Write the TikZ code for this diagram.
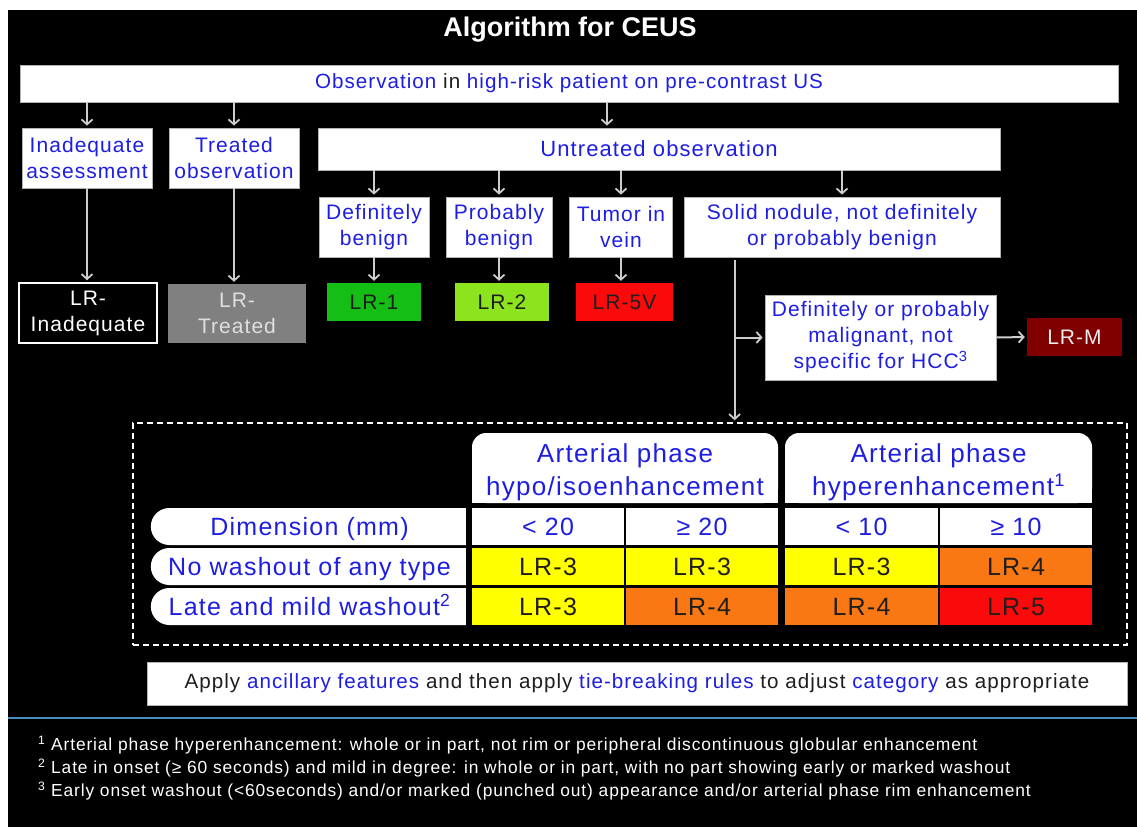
\documentclass[tikz,border=0pt]{standalone}
\usepackage{fontspec}
\setmainfont{Liberation Sans}[LetterSpace=5]
\newfontfamily\titlefont{Liberation Sans}
\usetikzlibrary{arrows.meta,calc,shapes.misc}
\definecolor{tb}{RGB}{30,30,225}
\definecolor{tk}{RGB}{30,30,30}
\definecolor{arrgray}{RGB}{205,205,205}
\definecolor{lrone}{RGB}{20,190,20}
\definecolor{lrtwo}{RGB}{140,228,30}
\definecolor{lrred}{RGB}{250,10,10}
\definecolor{lrm}{RGB}{128,0,0}
\definecolor{lrgray}{RGB}{128,128,128}
\definecolor{cyel}{RGB}{255,255,0}
\definecolor{corg}{RGB}{250,120,20}
\definecolor{rule}{RGB}{70,140,190}
\begin{document}
\begin{tikzpicture}[x=1pt,y=-1pt,
  box/.style={draw=gray!60, line width=0.8pt, fill=white, text=tb, align=center, inner sep=0pt,
    font=\fontsize{21}{26}\selectfont},
  lrbox/.style={inner sep=0pt, align=center, font=\fontsize{21}{26}\selectfont, text=tk},
  arr/.style={draw=arrgray, line width=2pt, -{Straight Barb[length=5pt,width=11pt,line width=1.8pt]}, shorten >=2pt},
  cell/.style={inner sep=0pt, minimum height=37pt, text height=18pt, text depth=0pt, text=tk, font=\fontsize{25}{30}\selectfont},
  hdrtext/.style={inner sep=0pt, text=tb, align=center, font=\fontsize{26}{33}\selectfont},
  rowlab/.style={fill=white, rounded rectangle, rounded rectangle right arc=none, inner sep=0pt,
    minimum width=315pt, minimum height=37pt, text height=18pt, text depth=0pt, text=tb, font=\fontsize{25}{30}\selectfont}
]
\useasboundingbox (0,0) rectangle (1137,827);
\fill[white] (0,0) rectangle (1137,827);
\fill[black] (8,10) rectangle (1137,827);

% title
\node[text=white, font=\titlefont\bfseries\fontsize{27}{30}\selectfont] (title) at (570,30) {Algorithm for CEUS};

% top level
\node[box, minimum width=1098pt, minimum height=37pt, font=\fontsize{20.6}{26}\selectfont] (top) at (569,83.5)
  {Observation \textcolor{tk}{in} high-risk patient on pre-contrast US};
\node[box, minimum width=130pt, minimum height=60pt] (inad) at (87,158) {Inadequate\\assessment};
\node[box, minimum width=130pt, minimum height=60pt] (treat) at (234,158) {Treated\\observation};
\node[box, minimum width=682pt, minimum height=42pt, font=\fontsize{22}{26}\selectfont] (untr) at (659,149) {Untreated observation};

\node[box, minimum width=110pt, minimum height=60pt] (defb) at (374,227) {Definitely\\benign};
\node[box, minimum width=106pt, minimum height=60pt] (probb) at (499,227) {Probably\\benign};
\node[box, minimum width=103pt, minimum height=60pt] (tiv) at (621,227) {Tumor in\\vein};
\node[box, minimum width=316pt, minimum height=60pt] (solid) at (842,227) {Solid nodule, not definitely\\or probably benign};

% LR categories (top)
\node[lrbox, draw=white, line width=1.5pt, fill=black, text=white, minimum width=138pt, minimum height=60pt] (lrinad) at (88,313) {LR-\\Inadequate};
\node[lrbox, fill=lrgray, text=gray!25, minimum width=138pt, minimum height=59pt] (lrtreat) at (237,313.5) {LR-\\Treated};
\node[lrbox, fill=lrone, minimum width=94pt, minimum height=38pt] (lr1) at (374,302) {LR-1};
\node[lrbox, fill=lrtwo, minimum width=94pt, minimum height=38pt] (lr2) at (502,302) {LR-2};
\node[lrbox, fill=lrred, minimum width=97pt, minimum height=38pt] (lr5v) at (624.5,302) {LR-5V};

\node[box, minimum width=231pt, minimum height=85pt] (mal) at (880.5,337.5) {Definitely or probably\\malignant, not\\specific for HCC\textsuperscript{3}};
\node[lrbox, fill=lrm, text=gray!15, minimum width=95pt, minimum height=38pt] (lrmnode) at (1074.5,337) {LR-M};

% dashed frame
\node[draw=white, dashed, dash pattern=on 6pt off 4pt, line width=1.5pt, minimum width=994pt, minimum height=222pt, inner sep=0pt] (frame) at (630,534) {};

% arrows
\coordinate (u1) at ($(untr.north)+(-52,0)$);
\draw[arr] (top.south -| inad.north) -- (inad.north);
\draw[arr] (top.south -| treat.north) -- (treat.north);
\draw[arr] (top.south -| u1) -- (u1);
\draw[arr] (untr.south -| defb.north) -- (defb.north);
\draw[arr] (untr.south -| probb.north) -- (probb.north);
\draw[arr] (untr.south -| tiv.north) -- (tiv.north);
\draw[arr] (untr.south -| solid.north) -- (solid.north);
\draw[arr] (inad.south) -- (inad.south |- lrinad.north);
\draw[arr] (treat.south) -- (treat.south |- lrtreat.north);
\draw[arr] (defb.south) -- (defb.south |- lr1.north);
\draw[arr] (probb.south) -- (probb.south |- lr2.north);
\draw[arr] (tiv.south) -- (tiv.south |- lr5v.north);
\coordinate (sx) at ($(solid.south west)+(51,3)$);
\draw[arr] (sx) -- (sx |- frame.north);
\draw[arr] (sx |- mal.west) -- (mal.west);
\draw[arr] (mal.east) -- (lrmnode.west);

% table header (white tabs with rounded top corners)
\fill[white, rounded corners=14pt] (472,503) -- (472,433) -- (778,433) -- (778,503) -- cycle;
\fill[white] (472,480) rectangle (778,503);
\fill[white, rounded corners=14pt] (785,503) -- (785,433) -- (1092,433) -- (1092,503) -- cycle;
\fill[white] (785,480) rectangle (1092,503);
\node[hdrtext] (h1) at (625,472) {Arterial phase\\hypo/isoenhancement};
\node[hdrtext] (h2) at (938.5,472) {Arterial phase\\hyperenhancement\textsuperscript{1}};

% row labels
\node[rowlab] (rl1) at (309.5,526.5) {Dimension (mm)};
\node[rowlab] (rl2) at (309.5,566.5) {No washout of any type};
\node[rowlab] (rl3) at (309.5,606.5) {Late and mild washout\textsuperscript{2}};

% cells
\node[cell, fill=white, text=tb, minimum width=152pt] (d1) at (548,526.5) {< 20};
\node[cell, fill=white, text=tb, minimum width=152pt] (d2) at (702,526.5) {≥ 20};
\node[cell, fill=white, text=tb, minimum width=153pt] (d3) at (861.5,526.5) {< 10};
\node[cell, fill=white, text=tb, minimum width=152pt] (d4) at (1016,526.5) {≥ 10};

\node[cell, fill=cyel, minimum width=152pt] (a1) at (548,566.5) {LR-3};
\node[cell, fill=cyel, minimum width=152pt] (a2) at (702,566.5) {LR-3};
\node[cell, fill=cyel, minimum width=153pt] (a3) at (861.5,566.5) {LR-3};
\node[cell, fill=corg, minimum width=152pt] (a4) at (1016,566.5) {LR-4};

\node[cell, fill=cyel, minimum width=152pt] (b1) at (548,606.5) {LR-3};
\node[cell, fill=corg, minimum width=152pt] (b2) at (702,606.5) {LR-4};
\node[cell, fill=corg, minimum width=153pt] (b3) at (861.5,606.5) {LR-4};
\node[cell, fill=lrred, minimum width=152pt] (b4) at (1016,606.5) {LR-5};

% bottom box
\node[box, text=tk, minimum width=980pt, minimum height=43pt, font=\fontsize{20.6}{24}\selectfont] (apply) at (637,683.5)
  {Apply \textcolor{tb}{ancillary features} and then apply \textcolor{tb}{tie-breaking rules} to adjust \textcolor{tb}{category} as appropriate};

% rule
\draw[rule, line width=2pt] (8,718) -- (1137,718);

% footnotes
\node[anchor=west, text=white, align=left, inner sep=0pt, font=\fontsize{17.4}{23}\selectfont] (notes) at (38,768)
  {\textsuperscript{1} Arterial phase hyperenhancement: whole or in part, not rim or peripheral discontinuous globular enhancement\\
   \textsuperscript{2} Late in onset (≥ 60 seconds) and mild in degree: in whole or in part, with no part showing early or marked washout\\
   \textsuperscript{3} Early onset washout (<60seconds) and/or marked (punched out) appearance and/or arterial phase rim enhancement};
\end{tikzpicture}
\end{document}
